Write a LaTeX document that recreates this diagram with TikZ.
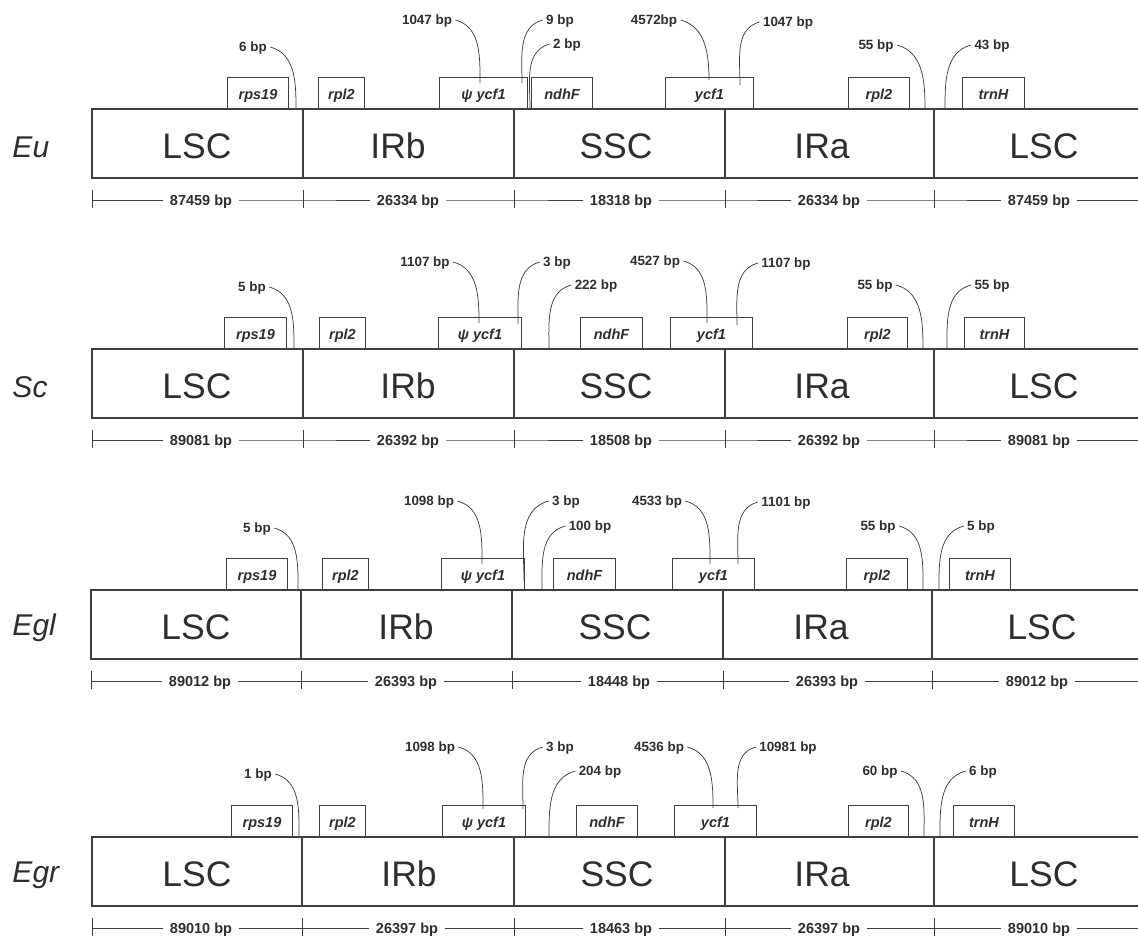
\documentclass[tikz,border=0pt]{standalone}
\usepackage{fontspec}
\setmainfont{Liberation Sans}
\definecolor{cline}{HTML}{3F3F3F}
\definecolor{ctext}{HTML}{2E2E2E}
\tikzset{
  every picture/.style={line width=1pt, color=cline},
  frame/.style={line width=1.7pt},
  divider/.style={line width=1.1pt},
  scalebar/.style={line width=1pt},
  lead/.style={line width=0.75pt},
  region/.style={text=ctext, font=\fontsize{35.5}{40}\selectfont, inner sep=0pt},
  rowname/.style={text=ctext, font=\itshape\fontsize{30}{34}\selectfont, anchor=west, inner sep=0pt},
  gene/.style={draw, line width=1pt, anchor=south west, minimum height=31pt, inner sep=0pt, text height=13.4pt, text depth=0pt, text=ctext, font=\bfseries\itshape\fontsize{14.5}{16}\selectfont},
  bp/.style={text=ctext, font=\bfseries\fontsize{13.4}{15}\selectfont, inner sep=3pt, text depth=0pt},
  len/.style={text=ctext, font=\bfseries\fontsize{14.5}{16}\selectfont, inner xsep=6pt, inner ysep=2pt, text depth=0pt},
}

\begin{document}
\begin{tikzpicture}[x=1pt, y=-1pt]
  \useasboundingbox (0,0) rectangle (1138,938);
  % Eu
  \node[rowname] (eu) at (12,147) {Eu};
  \draw[frame] (1138,109) -| (92,178) -- (1138,178);
  \foreach \x/\cx/\reg/\lx/\len [count=\i] in {92/197/LSC/201/87459 bp, 303/398/IRb/408/26334 bp, 514/616/SSC/621/18318 bp, 725/822/IRa/829/26334 bp, 934/1044/LSC/1039/87459 bp} {
    \draw[divider] (\x,109) -- (\x,178);
    \node[region] (eu-r\i) at (\cx,146) {\reg};
    \draw[scalebar] (\x,190) -- (\x,208);
    \coordinate (eu-t\i) at (\x,200);
    \node[len] (eu-l\i) at (\lx,200) {\len};
  }
  \coordinate (eu-end) at (1138,200);
  \draw[scalebar] (eu-t1) -- (eu-l1) -- (eu-t2) -- (eu-l2) -- (eu-t3) -- (eu-l3) -- (eu-t4) -- (eu-l4) -- (eu-t5) -- (eu-l5) -- (eu-end);
  \foreach \x/\w/\g [count=\i] in {227/61/rps19, 318/46/rpl2, 439/88/ψ ycf1, 531/61/ndhF, 665/88/ycf1, 848/61/rpl2, 962/62/trnH}
    \node[gene, minimum width=\w pt] (eu-g\i) at (\x,109) {\g};
  \foreach \t/\lx/\ly/\ex/\ey [count=\i] in {6 bp/253/47/296/109, 1047 bp/427/20/480/83, 4572bp/654/20/709/80, 55 bp/876/45/925/109} {
    \node[bp] (eu-a\i) at (\lx,\ly) {\t};
    \draw[lead] (eu-a\i.east) to[out=-15, in=90] (\ex,\ey);
  }
  \foreach \t/\lx/\ly/\ex/\ey [count=\i] in {9 bp/560/20/522/83, 2 bp/567/44/530/109, 1047 bp/788/22/740/85, 43 bp/992/45/945/109} {
    \node[bp] (eu-b\i) at (\lx,\ly) {\t};
    \draw[lead] (eu-b\i.west) to[out=195, in=90] (\ex,\ey);
  }

  % Sc
  \begin{scope}[shift={(0,240)}]
  \node[rowname] (sc) at (12,147) {Sc};
  \draw[frame] (1138,109) -| (92,178) -- (1138,178);
  \foreach \x/\cx/\reg/\lx/\len [count=\i] in {92/197/LSC/201/89081 bp, 303/408/IRb/408/26392 bp, 514/616/SSC/621/18508 bp, 725/822/IRa/829/26392 bp, 934/1044/LSC/1039/89081 bp} {
    \draw[divider] (\x,109) -- (\x,178);
    \node[region] (sc-r\i) at (\cx,146) {\reg};
    \draw[scalebar] (\x,190) -- (\x,208);
    \coordinate (sc-t\i) at (\x,200);
    \node[len] (sc-l\i) at (\lx,200) {\len};
  }
  \coordinate (sc-end) at (1138,200);
  \draw[scalebar] (sc-t1) -- (sc-l1) -- (sc-t2) -- (sc-l2) -- (sc-t3) -- (sc-l3) -- (sc-t4) -- (sc-l4) -- (sc-t5) -- (sc-l5) -- (sc-end);
  \foreach \x/\w/\g [count=\i] in {224/62/rps19, 319/46/rpl2, 438/83/ψ ycf1, 580/62/ndhF, 670/82/ycf1, 847/60/rpl2, 964/60/trnH}
    \node[gene, minimum width=\w pt] (sc-g\i) at (\x,109) {\g};
  \foreach \t/\lx/\ly/\ex/\ey [count=\i] in {5 bp/252/47/294/109, 1107 bp/425/22/479/83, 4527 bp/655/21/707/83, 55 bp/875/45/923/109} {
    \node[bp] (sc-a\i) at (\lx,\ly) {\t};
    \draw[lead] (sc-a\i.east) to[out=-15, in=90] (\ex,\ey);
  }
  \foreach \t/\lx/\ly/\ex/\ey [count=\i] in {3 bp/557/22/518/84, 222 bp/596/45/549/109, 1107 bp/786/23/737/85, 55 bp/992/45/947/109} {
    \node[bp] (sc-b\i) at (\lx,\ly) {\t};
    \draw[lead] (sc-b\i.west) to[out=195, in=90] (\ex,\ey);
  }
  \end{scope}

  % Egl
  \begin{scope}[shift={(0,481)}]
  \node[rowname] (egl) at (12,147) {Egl};
  \draw[frame] (1138,109) -| (91,178) -- (1138,178);
  \foreach \x/\cx/\reg/\lx/\len [count=\i] in {91/196/LSC/200/89012 bp, 301/406/IRb/406/26393 bp, 512/615/SSC/619/18448 bp, 723/821/IRa/827/26393 bp, 932/1042/LSC/1037/89012 bp} {
    \draw[divider] (\x,109) -- (\x,178);
    \node[region] (egl-r\i) at (\cx,146) {\reg};
    \draw[scalebar] (\x,190) -- (\x,208);
    \coordinate (egl-t\i) at (\x,200);
    \node[len] (egl-l\i) at (\lx,200) {\len};
  }
  \coordinate (egl-end) at (1138,200);
  \draw[scalebar] (egl-t1) -- (egl-l1) -- (egl-t2) -- (egl-l2) -- (egl-t3) -- (egl-l3) -- (egl-t4) -- (egl-l4) -- (egl-t5) -- (egl-l5) -- (egl-end);
  \foreach \x/\w/\g [count=\i] in {226/61/rps19, 322/46/rpl2, 441/83/ψ ycf1, 553/62/ndhF, 672/82/ycf1, 846/61/rpl2, 949/61/trnH}
    \node[gene, minimum width=\w pt] (egl-g\i) at (\x,109) {\g};
  \foreach \t/\lx/\ly/\ex/\ey [count=\i] in {5 bp/257/47/298/109, 1098 bp/429/20/482/83, 4533 bp/657/20/710/83, 55 bp/878/45/923/109} {
    \node[bp] (egl-a\i) at (\lx,\ly) {\t};
    \draw[lead] (egl-a\i.east) to[out=-15, in=90] (\ex,\ey);
  }
  \foreach \t/\lx/\ly/\ex/\ey [count=\i] in {3 bp/566/20/524/100, 100 bp/590/45/542/109, 1101 bp/786/21/738/83, 5 bp/981/45/939/109} {
    \node[bp] (egl-b\i) at (\lx,\ly) {\t};
    \draw[lead] (egl-b\i.west) to[out=195, in=90] (\ex,\ey);
  }
  \end{scope}

  % Egr
  \begin{scope}[shift={(0,728)}]
  \node[rowname] (egr) at (12,147) {Egr};
  \draw[frame] (1138,109) -| (92,178) -- (1138,178);
  \foreach \x/\cx/\reg/\lx/\len [count=\i] in {92/197/LSC/201/89010 bp, 302/409/IRb/407/26397 bp, 514/617/SSC/621/18463 bp, 725/822/IRa/829/26397 bp, 934/1044/LSC/1039/89010 bp} {
    \draw[divider] (\x,109) -- (\x,178);
    \node[region] (egr-r\i) at (\cx,146) {\reg};
    \draw[scalebar] (\x,190) -- (\x,208);
    \coordinate (egr-t\i) at (\x,200);
    \node[len] (egr-l\i) at (\lx,200) {\len};
  }
  \coordinate (egr-end) at (1138,200);
  \draw[scalebar] (egr-t1) -- (egr-l1) -- (egr-t2) -- (egr-l2) -- (egr-t3) -- (egr-l3) -- (egr-t4) -- (egr-l4) -- (egr-t5) -- (egr-l5) -- (egr-end);
  \foreach \x/\w/\g [count=\i] in {231/61/rps19, 319/46/rpl2, 442/83/ψ ycf1, 576/61/ndhF, 674/82/ycf1, 848/60/rpl2, 953/61/trnH}
    \node[gene, minimum width=\w pt] (egr-g\i) at (\x,109) {\g};
  \foreach \t/\lx/\ly/\ex/\ey [count=\i] in {1 bp/258/46/299/109, 1098 bp/430/19/483/81, 4536 bp/659/19/713/80, 60 bp/880/43/924/109} {
    \node[bp] (egr-a\i) at (\lx,\ly) {\t};
    \draw[lead] (egr-a\i.east) to[out=-15, in=90] (\ex,\ey);
  }
  \foreach \t/\lx/\ly/\ex/\ey [count=\i] in {3 bp/560/19/523/81, 204 bp/600/43/549/109, 10981 bp/788/19/738/80, 6 bp/983/43/940/109} {
    \node[bp] (egr-b\i) at (\lx,\ly) {\t};
    \draw[lead] (egr-b\i.west) to[out=195, in=90] (\ex,\ey);
  }
  \end{scope}
\end{tikzpicture}
\end{document}
